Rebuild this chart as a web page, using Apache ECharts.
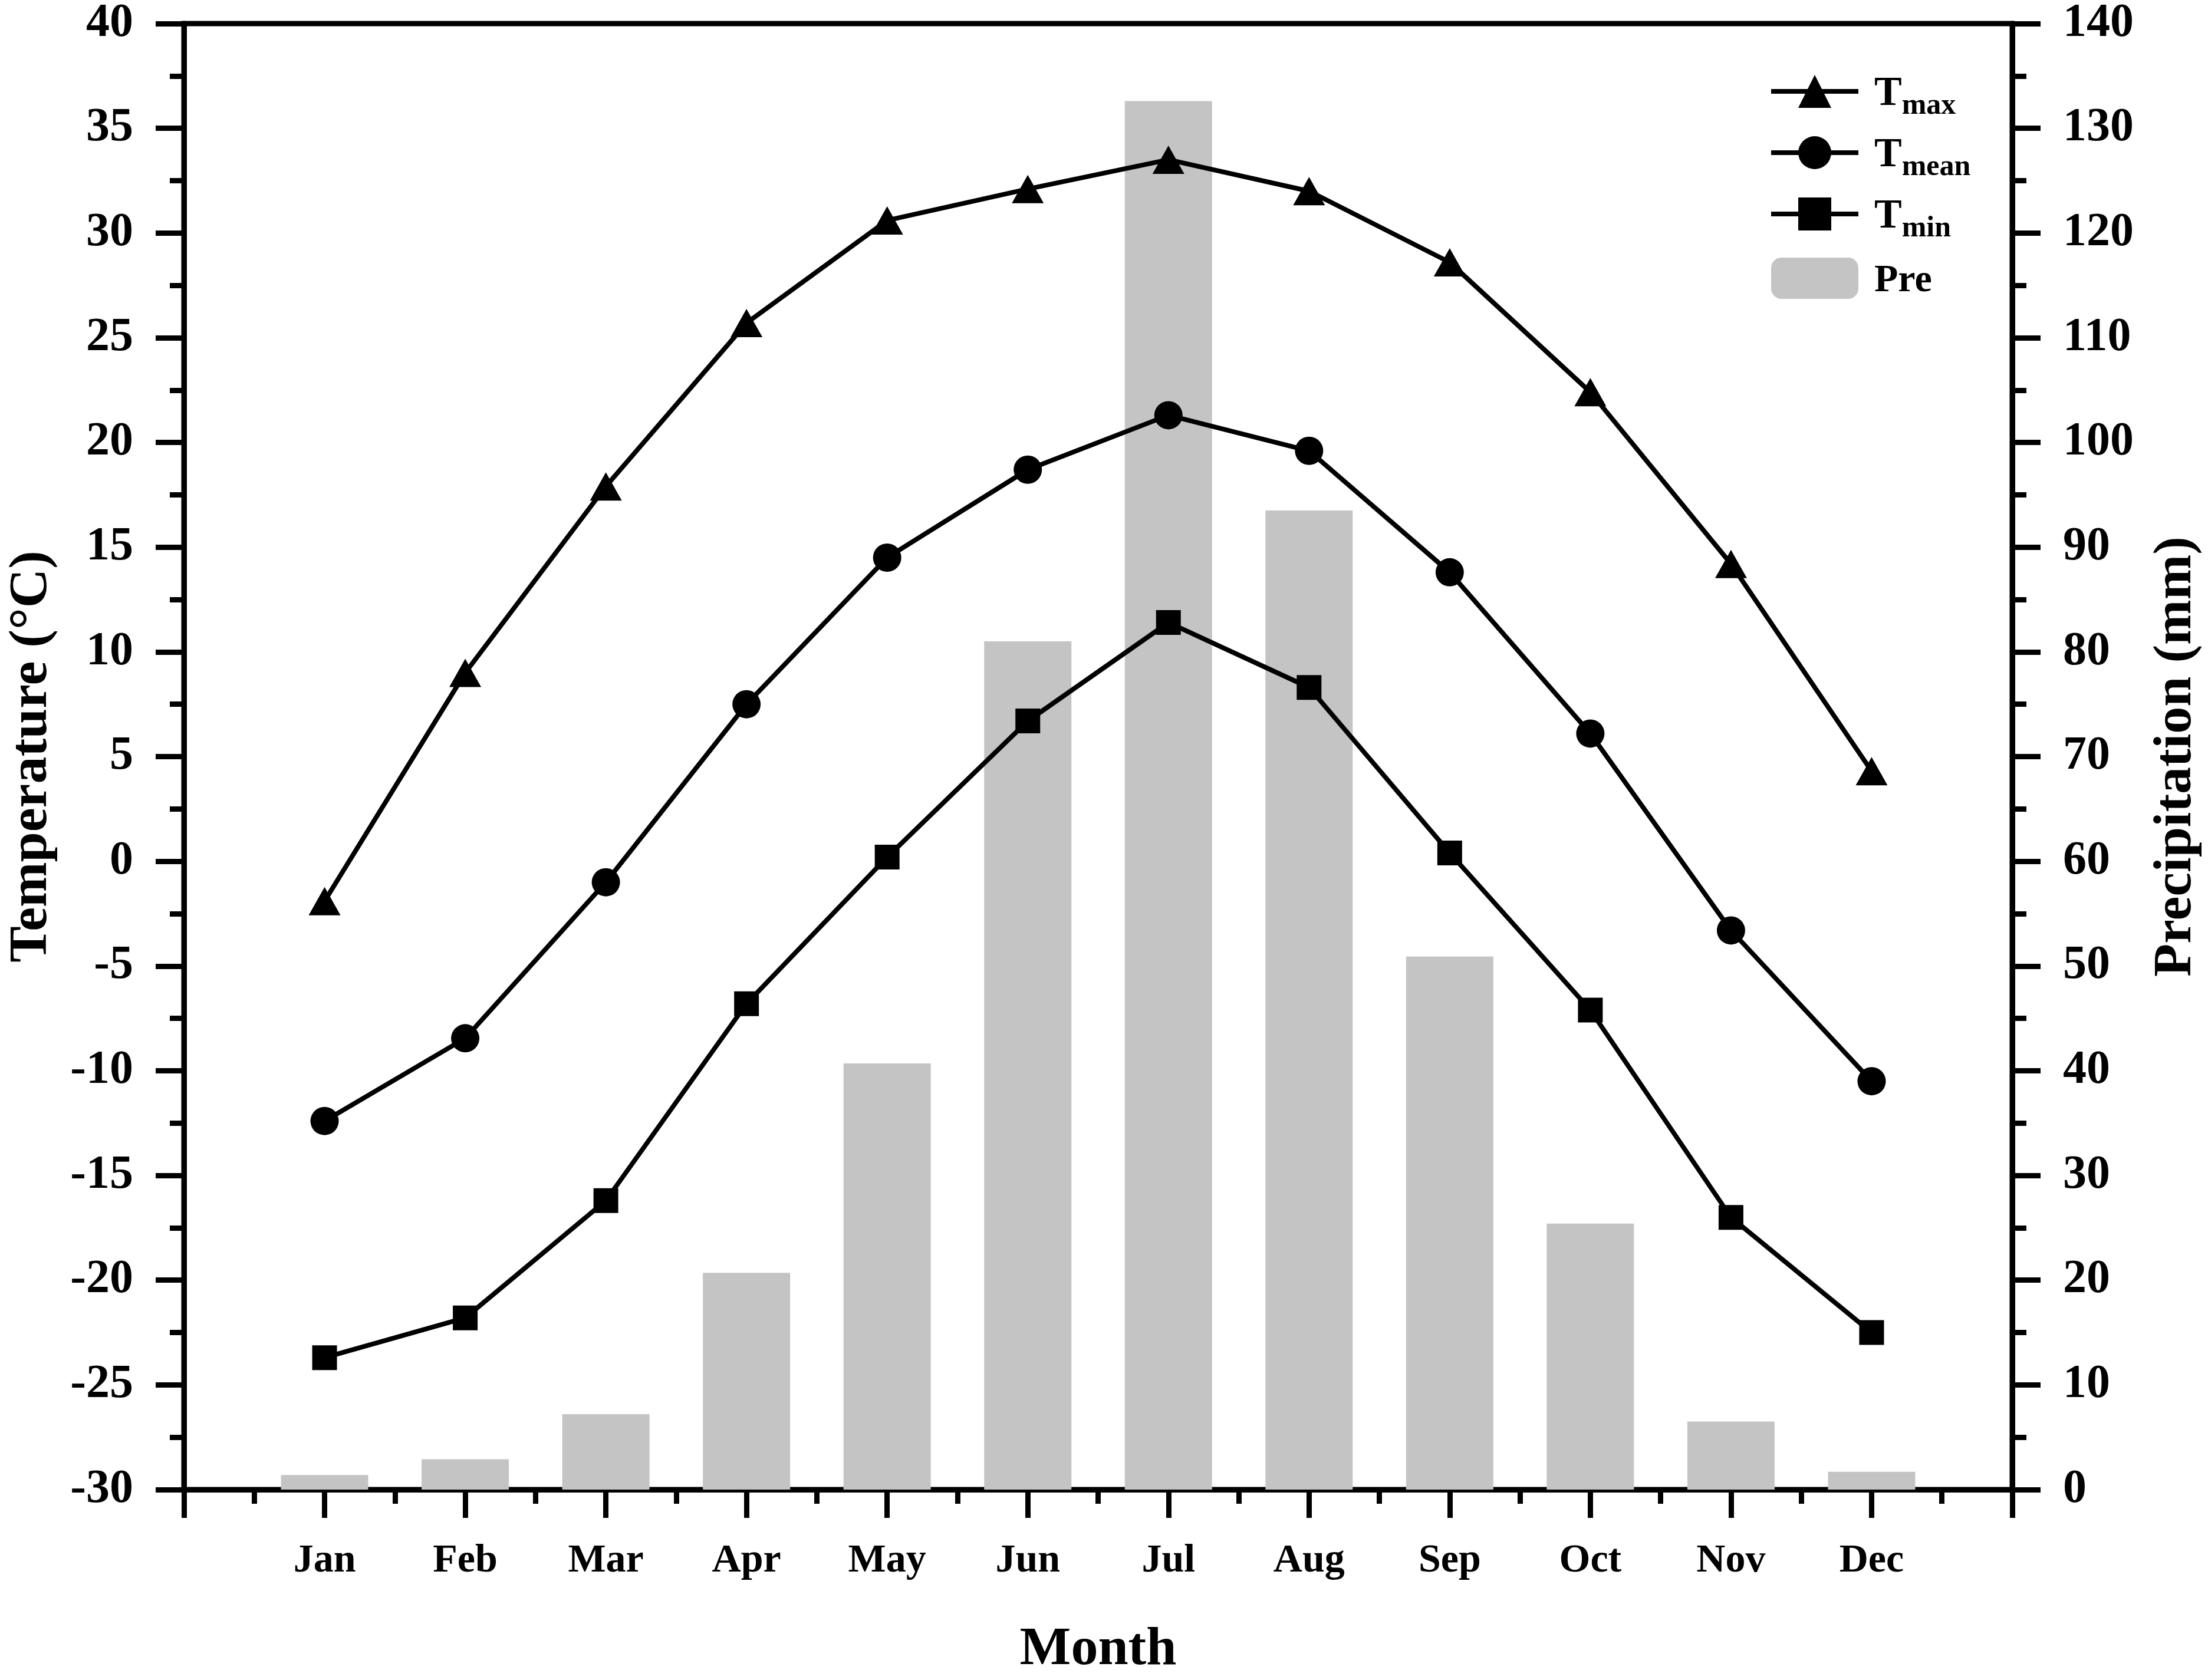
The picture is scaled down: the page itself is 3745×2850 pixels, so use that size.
<!DOCTYPE html>
<html lang="en">
<head>
    <meta charset="UTF-8">
    <title>Monthly temperature and precipitation</title>
    <style>
        html, body{
            margin: 0;
            padding: 0;
            background: #fff;
        }
        #main{
            width: 3745px;
            height: 2850px;
        }
    </style>
</head>
<body>
<div id="main"></div>
<script src="https://cdn.jsdelivr.net/npm/echarts@6/dist/echarts.min.js"></script>
<script type="text/javascript">
    // data
    var months = ['Jan', 'Feb', 'Mar', 'Apr', 'May', 'Jun', 'Jul', 'Aug', 'Sep', 'Oct', 'Nov', 'Dec'];
    var tmax = [-1.9, 9.0, 17.9, 25.7, 30.6, 32.1, 33.5, 32.0, 28.6, 22.4, 14.2, 4.3];
    var tmean = [-12.4, -8.45, -1.0, 7.5, 14.5, 18.7, 21.3, 19.6, 13.8, 6.1, -3.3, -10.5];
    var tmin = [-23.7, -21.8, -16.2, -6.8, 0.2, 6.7, 11.4, 8.3, 0.4, -7.1, -17.0, -22.5];
    var pre = [1.4, 2.9, 7.2, 20.7, 40.7, 81.0, 132.6, 93.5, 50.9, 25.4, 6.5, 1.7];

    var FONT = 'Liberation Serif';

    // month n sits at x = n on a 0..13 value axis
    function pairs(arr){
        return arr.map(function (v, i) { return [i + 1, v]; });
    }

    var tickStyle = {color: '#000', width: 9};

    function lineSeries(name, values, symbol, size){
        return {
            name: name,
            type: 'line',
            data: pairs(values),
            symbol: symbol,
            symbolSize: size,
            itemStyle: {color: '#000'},
            lineStyle: {color: '#000', width: 8},
            z: 3
        };
    }

    var myChart = echarts.init(document.getElementById('main'), null, {renderer: 'canvas'});

    var option = {
        backgroundColor: '#fff',
        animation: false,
        textStyle: {fontFamily: FONT},
        grid: {
            left: 305,
            right: 330,
            top: 40,
            bottom: 305,
            containLabel: false,
            show: true,
            borderColor: '#000',
            borderWidth: 9,
            backgroundColor: 'transparent'
        },
        legend: {
            orient: 'vertical',
            left: 2995,
            top: 120,
            itemWidth: 148,
            itemHeight: 70,
            itemGap: 24,
            data: ['Tmax', 'Tmean', 'Tmin', 'Pre'],
            lineStyle: {width: 8, color: '#000'},
            formatter: function (name) {
                if (name === 'Pre') return '{p|Pre}';
                return '{t|T}{s|' + name.slice(1) + '}';
            },
            textStyle: {
                color: '#000',
                fontFamily: FONT,
                fontWeight: 'bold',
                padding: [10, 0, 0, 22],
                rich: {
                    t: {fontSize: 70, fontWeight: 'bold', fontFamily: FONT, color: '#000', lineHeight: 70, verticalAlign: 'middle'},
                    s: {fontSize: 50, fontWeight: 'bold', fontFamily: FONT, color: '#000', lineHeight: 90, verticalAlign: 'bottom'},
                    p: {fontSize: 66, fontWeight: 'bold', fontFamily: FONT, color: '#000', lineHeight: 90, verticalAlign: 'middle'}
                }
            }
        },
        xAxis: {
            type: 'value',
            min: 0,
            max: 13,
            interval: 1,
            name: 'Month',
            nameLocation: 'middle',
            nameGap: 226,
            nameTextStyle: {fontSize: 92, fontWeight: 'bold', fontFamily: FONT, color: '#000'},
            axisLine: {show: true, onZero: false, lineStyle: tickStyle},
            axisTick: {show: true, inside: false, length: 48, lineStyle: tickStyle},
            minorTick: {show: true, splitNumber: 2, length: 24, lineStyle: tickStyle},
            splitLine: {show: false},
            minorSplitLine: {show: false},
            axisLabel: {
                margin: 87,
                fontSize: 68,
                fontWeight: 'bold',
                fontFamily: FONT,
                color: '#000',
                formatter: function (v) { return months[v - 1] || ''; }
            }
        },
        yAxis: [
            {
                type: 'value',
                position: 'left',
                min: -30,
                max: 40,
                interval: 5,
                name: 'Temperature (\u00B0C)',
                nameLocation: 'middle',
                nameGap: 212,
                nameTextStyle: {fontSize: 92, fontWeight: 'bold', fontFamily: FONT, color: '#000'},
                axisLine: {show: true, onZero: false, lineStyle: tickStyle},
                axisTick: {show: true, inside: false, length: 48, lineStyle: tickStyle},
                minorTick: {show: true, splitNumber: 2, length: 24, lineStyle: tickStyle},
                splitLine: {show: false},
                minorSplitLine: {show: false},
                axisLabel: {margin: 86, fontSize: 80, fontWeight: 'bold', fontFamily: FONT, color: '#000'}
            },
            {
                type: 'value',
                position: 'right',
                min: 0,
                max: 140,
                interval: 10,
                name: 'Precipitation (mm)',
                nameLocation: 'middle',
                nameGap: 232,
                nameTextStyle: {fontSize: 92, fontWeight: 'bold', fontFamily: FONT, color: '#000'},
                axisLine: {show: true, onZero: false, lineStyle: tickStyle},
                axisTick: {show: true, inside: false, length: 48, lineStyle: tickStyle},
                minorTick: {show: true, splitNumber: 2, length: 24, lineStyle: tickStyle},
                splitLine: {show: false},
                minorSplitLine: {show: false},
                axisLabel: {margin: 86, fontSize: 80, fontWeight: 'bold', fontFamily: FONT, color: '#000'}
            }
        ],
        series: [
            {
                name: 'Pre',
                type: 'bar',
                yAxisIndex: 1,
                data: pairs(pre),
                barWidth: 148,
                itemStyle: {color: '#c4c4c4'},
                z: 1
            },
            lineSeries('Tmax', tmax, 'triangle', [54, 48]),
            lineSeries('Tmean', tmean, 'circle', 48),
            lineSeries('Tmin', tmin, 'rect', 42)
        ]
    };

    myChart.setOption(option);
</script>
</body>
</html>
